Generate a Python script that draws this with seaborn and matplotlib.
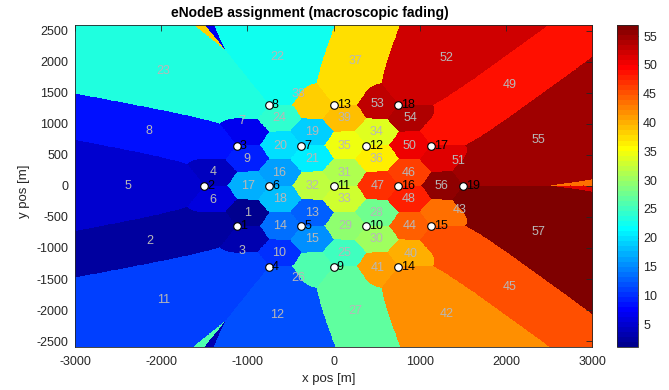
import numpy as np
import pandas as pd
import matplotlib
matplotlib.use("Agg")
import matplotlib.pyplot as plt
from matplotlib.colors import ListedColormap
import matplotlib.transforms as mtransforms
import seaborn as sns

# eNodeB sites: hexagonal layout, 750 m inter-site distance
site_ids = list(range(1, 20))
site_x = [-1125, -1500, -1125, -750, -375, -750, -375, -750, 0, 375,
          0, 375, 0, 750, 1125, 750, 1125, 750, 1500]
site_y = [-649.5, 0, 649.5, -1299, -649.5, 0, 649.5, 1299, -1299, -649.5,
          0, 649.5, 1299, -1299, -649.5, 0, 649.5, 1299, 0]
# three sectors per site (ids 3s-2, 3s-1, 3s), boresight azimuth in degrees
sector_azimuths = [60, 180, 300]

roi_x = [-3000, 3000]
roi_y = [-2600, 2600]
cbar_ticks = [5, 10, 15, 20, 25, 30, 35, 40, 45, 50, 55]

# macroscopic model: TS 36.942 sector antenna + urban path loss slope
PL_SLOPE = 37.6
BEAMWIDTH_3DB = 65.0
MAX_ATTEN = 20.0
RES = 5.0


def matlab_jet(m=64):
    n = int(np.ceil(m / 4))
    u = np.concatenate([np.arange(1, n + 1) / n, np.ones(n - 1), np.arange(n, 0, -1) / n])
    g = int(np.ceil(n / 2)) - (1 if m % 4 == 1 else 0) + np.arange(1, len(u) + 1)
    r = g + n
    b = g - n
    J = np.zeros((m, 3))
    for idx, col in ((r, 0), (g, 1), (b, 2)):
        ok = (idx >= 1) & (idx <= m)
        J[idx[ok] - 1, col] = u[ok]
    return J


# strongest-sector assignment over the region of interest
xs = np.arange(roi_x[0], roi_x[1] + RES, RES)
ys = np.arange(roi_y[0], roi_y[1] + RES, RES)
X, Y = np.meshgrid(xs, ys)
best = np.full(X.shape, -np.inf)
assign = np.zeros(X.shape, dtype=int)
for s, (sx, sy) in enumerate(zip(site_x, site_y)):
    dx = X - sx
    dy = Y - sy
    dist = np.maximum(np.hypot(dx, dy), 1.0)
    pathloss = PL_SLOPE * np.log10(dist)
    ang = np.degrees(np.arctan2(dy, dx))
    for j, az in enumerate(sector_azimuths):
        off = (ang - az + 180.0) % 360.0 - 180.0
        gain = -np.minimum(12.0 * (off / BEAMWIDTH_3DB) ** 2, MAX_ATTEN)
        p = gain - pathloss
        better = p > best
        best[better] = p[better]
        assign[better] = 3 * s + j + 1

n_sectors = 3 * len(site_ids)
centroids = []
for k in range(1, n_sectors + 1):
    m = assign == k
    if m.any():
        centroids.append((k, X[m].mean(), Y[m].mean()))

sites = pd.DataFrame({"id": site_ids, "x": site_x, "y": site_y})

sns.set_style("white")
plt.rcParams["font.family"] = ["Liberation Sans", "DejaVu Sans"]
plt.rcParams["axes.unicode_minus"] = False

W, H = 669, 390
AX_L, AX_R, AX_T, AX_B = 75.0, 592.3, 24.5, 347.3
fig = plt.figure(figsize=(W / 100, H / 100), dpi=100)
ax = fig.add_axes([AX_L / W, 1 - AX_B / H, (AX_R - AX_L) / W, (AX_B - AX_T) / H])
cax = fig.add_axes([617.3 / W, 1 - AX_B / H, 21 / W, (AX_B - AX_T) / H])

cmap = ListedColormap(matlab_jet(64))
im = ax.imshow(assign, origin="lower", cmap=cmap, vmin=1, vmax=n_sectors,
               extent=[xs[0] - RES / 2, xs[-1] + RES / 2, ys[0] - RES / 2, ys[-1] + RES / 2],
               aspect="auto", interpolation="nearest")

label_grey = (0.72, 0.72, 0.72)
for k, cx, cy in centroids:
    ax.text(cx, cy, str(k), color=label_grey, fontsize=9, ha="center", va="center")

sns.scatterplot(data=sites, x="x", y="y", ax=ax, s=30, color="white",
                edgecolor="black", linewidth=0.8, zorder=5, legend=False)
shift = mtransforms.offset_copy(ax.transData, fig=fig, x=3, y=0, units="dots")
for _, r in sites.iterrows():
    ax.text(r["x"], r["y"], str(int(r["id"])), transform=shift, color="black",
            fontsize=9, ha="left", va="center", zorder=6)

ax.set_xlim(roi_x)
ax.set_ylim(roi_y)
ax.set_xticks(np.arange(-3000, 3001, 1000))
ax.set_yticks(np.arange(-2500, 2501, 500))
axis_col = (0.15, 0.15, 0.15)
ax.tick_params(direction="in", top=True, right=True, length=4, width=0.6,
               colors=axis_col, labelsize=9)
ax.tick_params(axis="x", pad=6.5)
ax.tick_params(axis="y", pad=5)
for sp in ax.spines.values():
    sp.set_linewidth(0.6)
    sp.set_color(axis_col)

ax.set_xlabel("x pos [m]", fontsize=9.5, color=axis_col, va="center")
ax.set_ylabel("y pos [m]", fontsize=9.5, color=axis_col, va="center")
aw, ah = AX_R - AX_L, AX_B - AX_T
ax.xaxis.set_label_coords((328.5 - AX_L) / aw, -(379.3 - AX_B) / ah)
ax.yaxis.set_label_coords((23.5 - AX_L) / aw, (AX_B - 191.5) / ah)

cb = fig.colorbar(im, cax=cax, ticks=cbar_ticks)
cb.outline.set_linewidth(0.6)
cb.outline.set_edgecolor(axis_col)
cb.ax.tick_params(direction="in", length=4, width=0.6, colors=axis_col, labelsize=9)

fig.text(309.5 / W, 1 - 13.5 / H, "eNodeB assignment (macroscopic fading)",
         ha="center", va="center", fontsize=10, fontweight="bold", color="black")

fig.savefig("out.png", dpi=100)
